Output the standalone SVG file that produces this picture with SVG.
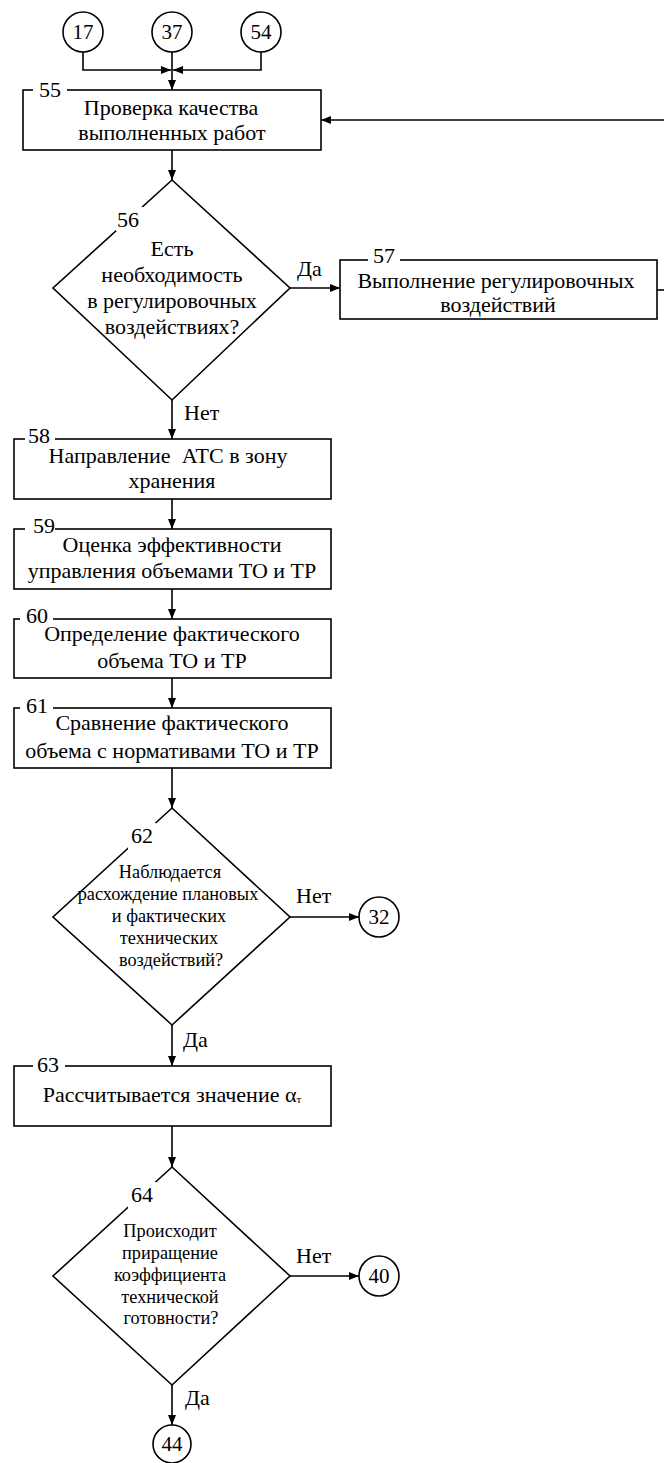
<svg xmlns="http://www.w3.org/2000/svg" width="664" height="1463" viewBox="0 0 664 1463">
  <defs>
    <marker id="arrow" viewBox="0 0 10 8" refX="10" refY="4" markerWidth="10" markerHeight="8" markerUnits="userSpaceOnUse" orient="auto">
      <path d="M0,0 L10,4 L0,8 Z" fill="#000"/>
    </marker>
    <style>
      .shape { fill: #fff; stroke: #000; stroke-width: 1.6; }
      .line { fill: none; stroke: #000; stroke-width: 1.6; }
      .arr { marker-end: url(#arrow); }
      .t { font-family: "Liberation Serif", "Times New Roman", serif; font-size: 22px; fill: #000; }
      .c { text-anchor: middle; }
      .s { font-size: 18.3px; }
      .n { font-size: 21px; }
      .mask { fill: #fff; stroke: none; }
    </style>
  </defs>
  <rect width="664" height="1463" fill="#fff"/>

  <!-- connectors -->
  <g id="connectors">
    <path class="line arr" d="M83,52 V70 H171" />
    <path class="line arr" d="M261,52 V70 H173" />
    <path class="line arr" d="M172,52 V90" />
    <path class="line arr" d="M664,120 H321" />
    <path class="line arr" d="M172,150 V180" />
    <path class="line arr" d="M290,288 H340" />
    <path class="line" d="M657,290 H664" />
    <path class="line arr" d="M172,400 V439" />
    <path class="line arr" d="M172,499 V529" />
    <path class="line arr" d="M172,589 V619" />
    <path class="line arr" d="M172,678 V708" />
    <path class="line arr" d="M172,768 V808" />
    <path class="line arr" d="M290,917 H359" />
    <path class="line arr" d="M172,1025 V1066" />
    <path class="line arr" d="M172,1126 V1167" />
    <path class="line arr" d="M290,1276 H359" />
    <path class="line arr" d="M172,1385 V1425" />
    <text class="t" x="297" y="276">Да</text>
    <text class="t" x="184" y="420">Нет</text>
    <text class="t" x="296" y="903">Нет</text>
    <text class="t" x="183" y="1047">Да</text>
    <text class="t" x="296" y="1263">Нет</text>
    <text class="t" x="185" y="1405">Да</text>
  </g>

  <!-- off-page connectors -->
  <g id="c17"><circle class="shape" cx="83" cy="32" r="20"/><text class="t n c" x="83" y="39">17</text></g>
  <g id="c37"><circle class="shape" cx="172" cy="32" r="20"/><text class="t n c" x="172" y="39">37</text></g>
  <g id="c54"><circle class="shape" cx="261" cy="32" r="20"/><text class="t n c" x="261" y="39">54</text></g>
  <g id="c32"><circle class="shape" cx="379" cy="917" r="20"/><text class="t n c" x="379" y="924">32</text></g>
  <g id="c40"><circle class="shape" cx="379" cy="1276" r="20"/><text class="t n c" x="379" y="1283">40</text></g>
  <g id="c44"><circle class="shape" cx="172" cy="1444" r="19"/><text class="t n c" x="172" y="1451">44</text></g>

  <!-- 55 -->
  <g id="n55">
    <rect class="shape" x="23" y="90" width="298" height="60"/>
    <rect class="mask" x="33" y="84" width="34" height="12"/>
    <text class="t" x="39" y="97">55</text>
    <text class="t c" x="171" y="115">Проверка качества</text>
    <text class="t c" x="172" y="140">выполненных работ</text>
  </g>

  <!-- 56 -->
  <g id="n56">
    <polygon class="shape" points="172,180 290,288 172,400 53,288"/>
    <rect class="mask" x="116" y="207" width="28" height="24"/>
    <text class="t" x="117" y="227">56</text>
    <text class="t c" x="172" y="256">Есть</text>
    <text class="t c" x="172" y="282">необходимость</text>
    <text class="t c" x="172" y="308">в регулировочных</text>
    <text class="t c" x="172" y="334">воздействиях?</text>
  </g>

  <!-- 57 -->
  <g id="n57">
    <rect class="shape" x="340" y="260" width="317" height="59"/>
    <rect class="mask" x="368" y="254" width="32" height="12"/>
    <text class="t" x="373" y="263">57</text>
    <text class="t c" x="496" y="288">Выполнение регулировочных</text>
    <text class="t c" x="498" y="312">воздействий</text>
  </g>

  <!-- 58 -->
  <g id="n58">
    <rect class="shape" x="14" y="439" width="317" height="60"/>
    <rect class="mask" x="25" y="433" width="30" height="12"/>
    <text class="t" x="28" y="443">58</text>
    <text class="t c" x="168" y="463" xml:space="preserve">Направление  АТС в зону</text>
    <text class="t c" x="172" y="488">хранения</text>
  </g>

  <!-- 59 -->
  <g id="n59">
    <rect class="shape" x="14" y="529" width="317" height="60"/>
    <rect class="mask" x="25" y="523" width="30" height="12"/>
    <text class="t" x="33" y="533">59</text>
    <text class="t c" x="172" y="552">Оценка эффективности</text>
    <text class="t c" x="172" y="578">управления объемами ТО и ТР</text>
  </g>

  <!-- 60 -->
  <g id="n60">
    <rect class="shape" x="14" y="619" width="317" height="59"/>
    <rect class="mask" x="20" y="613" width="33" height="12"/>
    <text class="t" x="26" y="623">60</text>
    <text class="t c" x="172" y="641">Определение фактического</text>
    <text class="t c" x="172" y="668">объема ТО и ТР</text>
  </g>

  <!-- 61 -->
  <g id="n61">
    <rect class="shape" x="14" y="708" width="317" height="60"/>
    <rect class="mask" x="20" y="702" width="33" height="12"/>
    <text class="t" x="26" y="713">61</text>
    <text class="t c" x="172" y="730">Сравнение фактического</text>
    <text class="t c" x="172" y="758">объема с нормативами ТО и ТР</text>
  </g>

  <!-- 62 -->
  <g id="n62">
    <polygon class="shape" points="172,808 290,917 172,1025 53,917"/>
    <rect class="mask" x="128" y="823" width="28" height="26"/>
    <text class="t" x="131" y="843">62</text>
    <text class="t s c" x="170" y="878">Наблюдается</text>
    <text class="t s c" x="168" y="900">расхождение плановых</text>
    <text class="t s c" x="169" y="922">и фактических</text>
    <text class="t s c" x="169" y="944">технических</text>
    <text class="t s c" x="171" y="966">воздействий?</text>
  </g>

  <!-- 63 -->
  <g id="n63">
    <rect class="shape" x="14" y="1066" width="317" height="60"/>
    <rect class="mask" x="33" y="1060" width="32" height="12"/>
    <text class="t" x="37" y="1072">63</text>
    <text class="t c" x="172" y="1102">Рассчитывается значение α<tspan font-size="11px" dy="1">т</tspan></text>
  </g>

  <!-- 64 -->
  <g id="n64">
    <polygon class="shape" points="172,1167 290,1276 172,1385 53,1276"/>
    <rect class="mask" x="128" y="1182" width="28" height="26"/>
    <text class="t" x="131" y="1202">64</text>
    <text class="t s c" x="170" y="1237">Происходит</text>
    <text class="t s c" x="170" y="1259">приращение</text>
    <text class="t s c" x="170" y="1281">коэффициента</text>
    <text class="t s c" x="170" y="1303">технической</text>
    <text class="t s c" x="171" y="1324">готовности?</text>
  </g>
</svg>
